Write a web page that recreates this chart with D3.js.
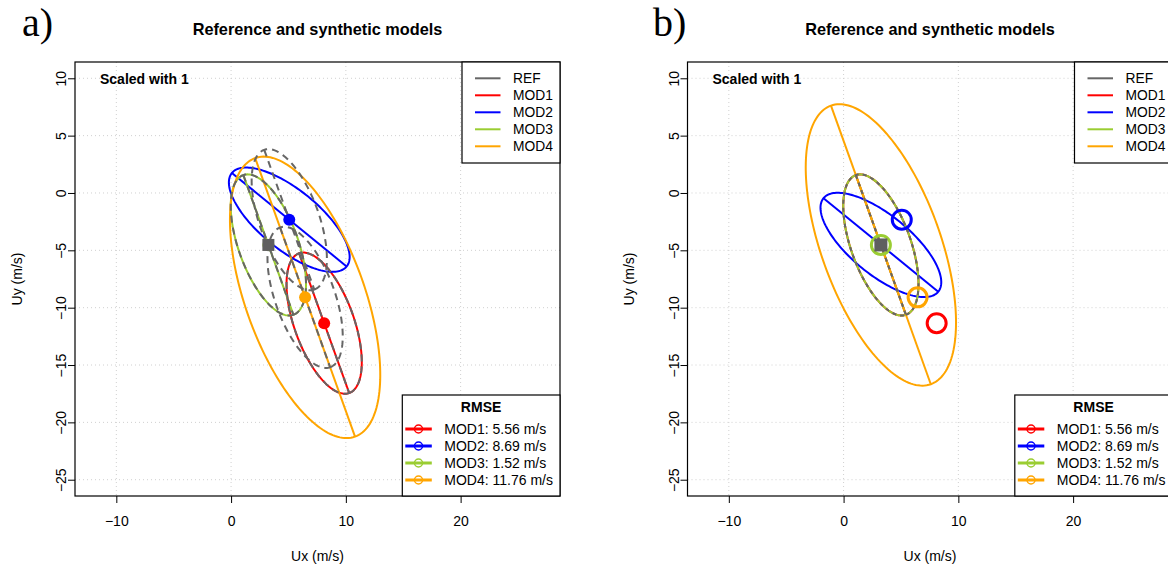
<!DOCTYPE html>
<html>
<head>
<meta charset="utf-8">
<script src="https://cdn.jsdelivr.net/npm/d3@7"></script>
<style>
  body { margin: 0; background: #fff; }
  svg { display: block; }
  text { font-family: "Liberation Sans", Arial, Helvetica, sans-serif; fill: #000; }
</style>
</head>
<body>
<svg id="chart" width="1168" height="567"></svg>
<script>
// Model statistics: mean wind vector and spread ellipse (semi-axes, major-axis angle in degrees)
const models    = ["MOD1", "MOD2", "MOD3", "MOD4"];
const meanUx    = [8.11, 5.07, 3.25, 6.45];
const meanUy    = [-11.35, -2.33, -4.53, -9.10];
const semiMajor = [6.47, 6.45, 6.47, 12.9];
const semiMinor = [2.6, 2.6, 2.6, 5.2];
const axisAngle = [-70.3, -39.2, -70.3, -70.3];
const rmse      = [5.56, 8.69, 1.52, 11.76];

// Reference: mean vector and ellipse [semi-major, semi-minor, angle]
const refMean    = [3.25, -4.53];
const refEllipse = [6.47, 2.6, -70.3];

const xTicks = [-10, 0, 10, 20];
const yTicks = [10, 5, 0, -5, -10, -15, -20, -25];
const panelLabels = ["a)", "b)"];
const titleText = "Reference and synthetic models";
const scaleNote = "Scaled with 1";

// Styling
const modelColors = ["#ff0000", "#0000ff", "#9acd32", "#ffa500"];
const refColor = "#666666";

const svg = d3.select("#chart");

// Layout of the two panels
const plotW = 485, plotTop = 62, plotBottom = 496;
const panels = [
  { left: 75,    label: panelLabels[0], labelX: 22,  shifted: false },
  { left: 687.5, label: panelLabels[1], labelX: 653, shifted: true }
];
const xDomain = [-13.60, 28.66];
const yDomain = [11.42, -26.42];

function ellipsePoints(cx, cy, a, b, angDeg) {
  const th = angDeg * Math.PI / 180;
  const c = Math.cos(th), s = Math.sin(th);
  return d3.range(0, 360, 2).map(t => {
    const r = t * Math.PI / 180;
    const ex = a * Math.cos(r), ey = b * Math.sin(r);
    return [cx + ex * c - ey * s, cy + ex * s + ey * c];
  });
}
function majorAxis(cx, cy, a, angDeg) {
  const th = angDeg * Math.PI / 180;
  return [[cx - a * Math.cos(th), cy - a * Math.sin(th)],
          [cx + a * Math.cos(th), cy + a * Math.sin(th)]];
}

panels.forEach(p => {
  const x = d3.scaleLinear().domain(xDomain).range([p.left, p.left + plotW]);
  const y = d3.scaleLinear().domain(yDomain).range([plotTop, plotBottom]);
  const x0 = p.left, x1 = p.left + plotW;
  const g = svg.append("g");

  const closed = d3.line().x(d => x(d[0])).y(d => y(d[1])).curve(d3.curveLinearClosed);
  const open = d3.line().x(d => x(d[0])).y(d => y(d[1]));

  // grid
  g.append("g").selectAll("line.vx").data(xTicks).join("line")
    .attr("x1", d => x(d)).attr("x2", d => x(d))
    .attr("y1", plotTop).attr("y2", plotBottom)
    .attr("stroke", "#d0d0d0").attr("stroke-dasharray", "1,3");
  g.append("g").selectAll("line.hy").data(yTicks).join("line")
    .attr("x1", x0).attr("x2", x1)
    .attr("y1", d => y(d)).attr("y2", d => y(d))
    .attr("stroke", "#d0d0d0").attr("stroke-dasharray", "1,3");

  const layer = g.append("g").attr("fill", "none");

  models.forEach((m, i) => {
    const cx = p.shifted ? refMean[0] : meanUx[i];
    const cy = p.shifted ? refMean[1] : meanUy[i];
    layer.append("path")
      .attr("d", closed(ellipsePoints(cx, cy, semiMajor[i], semiMinor[i], axisAngle[i])))
      .attr("stroke", modelColors[i]).attr("stroke-width", 2);
    layer.append("path")
      .attr("d", open(majorAxis(cx, cy, semiMajor[i], axisAngle[i])))
      .attr("stroke", modelColors[i]).attr("stroke-width", 2);
  });

  // reference ellipse: at every model mean (a) or at the reference mean (b)
  const refCentres = p.shifted ? [refMean] : models.map((m, i) => [meanUx[i], meanUy[i]]);
  const dash = p.shifted ? "4,4" : "7,5";
  refCentres.forEach(c => {
    layer.append("path")
      .attr("d", closed(ellipsePoints(c[0], c[1], refEllipse[0], refEllipse[1], refEllipse[2])))
      .attr("stroke", refColor).attr("stroke-width", 2).attr("stroke-dasharray", dash);
    layer.append("path")
      .attr("d", open(majorAxis(c[0], c[1], refEllipse[0], refEllipse[2])))
      .attr("stroke", refColor).attr("stroke-width", 2).attr("stroke-dasharray", dash);
  });

  // model means
  models.forEach((m, i) => {
    const c = g.append("circle").attr("cx", x(meanUx[i])).attr("cy", y(meanUy[i]));
    if (p.shifted) {
      c.attr("r", 9.5).attr("fill", "none").attr("stroke", modelColors[i]).attr("stroke-width", 3);
    } else {
      c.attr("r", 6).attr("fill", modelColors[i]);
    }
  });

  // reference mean
  const sq = p.shifted ? 13 : 12;
  g.append("rect")
    .attr("x", x(refMean[0]) - sq / 2).attr("y", y(refMean[1]) - sq / 2)
    .attr("width", sq).attr("height", sq).attr("fill", "#5f5f5f");

  // axes
  const ax = g.append("g").attr("transform", `translate(0,${plotBottom})`)
    .call(d3.axisBottom(x).tickValues(xTicks).tickSize(7).tickFormat(d3.format("")));
  ax.select(".domain").remove();
  ax.selectAll("text").attr("y", 25).attr("dy", "0.35em").style("font-size", "14px");

  const ay = g.append("g").attr("transform", `translate(${x0},0)`)
    .call(d3.axisLeft(y).tickValues(yTicks).tickSize(7).tickFormat(d3.format("")));
  ay.select(".domain").remove();
  ay.selectAll("text")
    .attr("x", 0).attr("y", -9).attr("dy", "0")
    .attr("transform", "rotate(-90)")
    .attr("text-anchor", "middle")
    .style("font-size", "14px");
  g.selectAll(".tick line").attr("stroke", "#000");

  // plot box
  g.append("rect").attr("x", x0).attr("y", plotTop)
    .attr("width", plotW).attr("height", plotBottom - plotTop)
    .attr("fill", "none").attr("stroke", "#000").attr("stroke-width", 1.2);

  // titles
  g.append("text").attr("x", (x0 + x1) / 2).attr("y", 34.5)
    .attr("text-anchor", "middle").style("font-weight", "bold").style("font-size", "16.3px")
    .text(titleText);
  g.append("text").attr("x", (x0 + x1) / 2).attr("y", 556).attr("dy", "0.35em")
    .attr("text-anchor", "middle").style("font-size", "14px").text("Ux (m/s)");
  g.append("text").attr("transform", `translate(${x0 - 58},${(plotTop + plotBottom) / 2}) rotate(-90)`)
    .attr("dy", "0.35em")
    .attr("text-anchor", "middle").style("font-size", "14px").text("Uy (m/s)");
  g.append("text").attr("x", x0 + 25).attr("y", 79).attr("dy", "0.35em")
    .style("font-weight", "bold").style("font-size", "14px").text(scaleNote);
  svg.append("text").attr("x", p.labelX).attr("y", 36)
    .style("font-family", "'Liberation Serif', 'Times New Roman', serif")
    .style("font-size", "40px").text(p.label);

  // legend: ellipse colours
  const l1x = x1 - 98;
  const l1 = g.append("g");
  l1.append("rect").attr("x", l1x).attr("y", plotTop).attr("width", 98).attr("height", 101)
    .attr("fill", "#fff").attr("stroke", "#000").attr("stroke-width", 1.2);
  const l1Names = ["REF"].concat(models);
  const l1Cols = [refColor].concat(modelColors);
  l1Names.forEach((n, i) => {
    const yy = 78.3 + i * 17;
    l1.append("line").attr("x1", l1x + 13).attr("x2", l1x + 38.5)
      .attr("y1", yy).attr("y2", yy).attr("stroke", l1Cols[i]).attr("stroke-width", 2);
    l1.append("text").attr("x", l1x + 51).attr("y", yy).attr("dy", "0.35em")
      .style("font-size", "13.8px").text(n);
  });

  // legend: RMSE
  const l2x = x1 - 157.7, l2y = 395;
  const l2 = g.append("g");
  l2.append("rect").attr("x", l2x).attr("y", l2y).attr("width", 157.7).attr("height", plotBottom - l2y)
    .attr("fill", "#fff").attr("stroke", "#000").attr("stroke-width", 1.2);
  l2.append("text").attr("x", l2x + 78.8).attr("y", 407).attr("dy", "0.35em")
    .attr("text-anchor", "middle").style("font-weight", "bold").style("font-size", "14px").text("RMSE");
  models.forEach((m, i) => {
    const yy = 429 + i * 17;
    l2.append("line").attr("x1", l2x + 3).attr("x2", l2x + 29.5)
      .attr("y1", yy).attr("y2", yy).attr("stroke", modelColors[i]).attr("stroke-width", 3);
    l2.append("circle").attr("cx", l2x + 16.2).attr("cy", yy).attr("r", 4)
      .attr("fill", "none").attr("stroke", modelColors[i]).attr("stroke-width", 1.5);
    l2.append("text").attr("x", l2x + 42).attr("y", yy).attr("dy", "0.35em")
      .style("font-size", "14px").text(`${m}: ${d3.format(".2f")(rmse[i])} m/s`);
  });
});
</script>
</body>
</html>
